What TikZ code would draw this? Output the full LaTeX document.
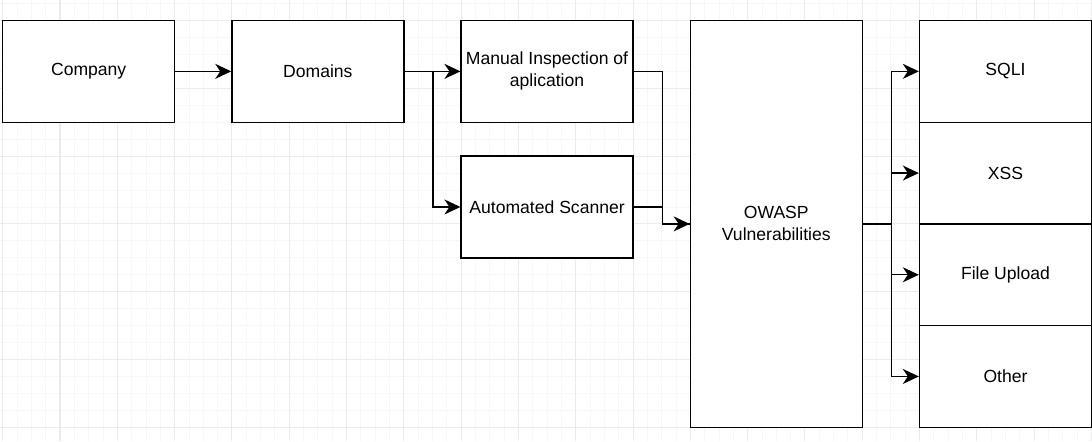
\documentclass[tikz,border=0pt]{standalone}
\usepackage{fontspec}
\setmainfont{Liberation Sans}
\usetikzlibrary{arrows.meta}

\tikzset{
  box/.style={draw, line width=0.8pt, fill=white, minimum width=3.438cm, minimum height=2.034cm, inner sep=2pt, align=center, font=\fontsize{10}{12.5}\selectfont},
  tallbox/.style={box, minimum height=8.136cm},
  link/.style={line width=0.8pt, -{Stealth[length=3.2mm, width=3mm, inset=1mm]}}
}

\begin{document}
\begin{tikzpicture}[x=0.2865cm, y=0.339cm]
			%%%%% START %%%%%
			
			\useasboundingbox (-0.19, -0.81) rectangle (76.04, 25.21);
			\fill[white] (-0.19, -0.81) rectangle (76.04, 25.21);
			\draw[black!3, line width=0.5pt, xstep=0.2865cm, ystep=0.339cm] (-0.19, -0.81) grid (76.04, 25.21);
			\draw[black!8, line width=0.6pt, xstep=1.146cm, ystep=1.356cm] (-0.19, -0.81) grid (76.04, 25.21);
			
			\node[box] (company) at (6, 21) {Company};
			\node[box] (domains) at (22, 21) {Domains};
			\node[box] (manual) at (38, 21) {Manual Inspection of\\aplication};
			\node[box] (auto) at (38, 13) {Automated Scanner};
			
			\node[tallbox] (owasp) at (54, 12) {OWASP\\Vulnerabilities};
			
			\node[box] (sqli) at (70, 21) {SQLI};
			\node[box] (xss) at (70, 15) {XSS};
			\node[box] (upload) at (70, 9) {File Upload};
			\node[box] (other) at (70, 3) {Other};
			
			\draw[link] (company) -- (domains);
			\draw[link] (domains) -- (manual);
			\draw[link] (domains.east) -- ++(2, 0) |- (auto.west);
			
			\draw[link] (manual.east) -- ++(2, 0) |- (owasp.west);
			\draw[line width=0.8pt] (auto.east) -- ++(2, 0) |- (owasp.west);
			
			\foreach \v in {sqli, xss, upload, other}
				\draw[link] (owasp.east) -- ++(2, 0) |- (\v.west);
			
			%%%%% END %%%%%
\end{tikzpicture}
\end{document}
